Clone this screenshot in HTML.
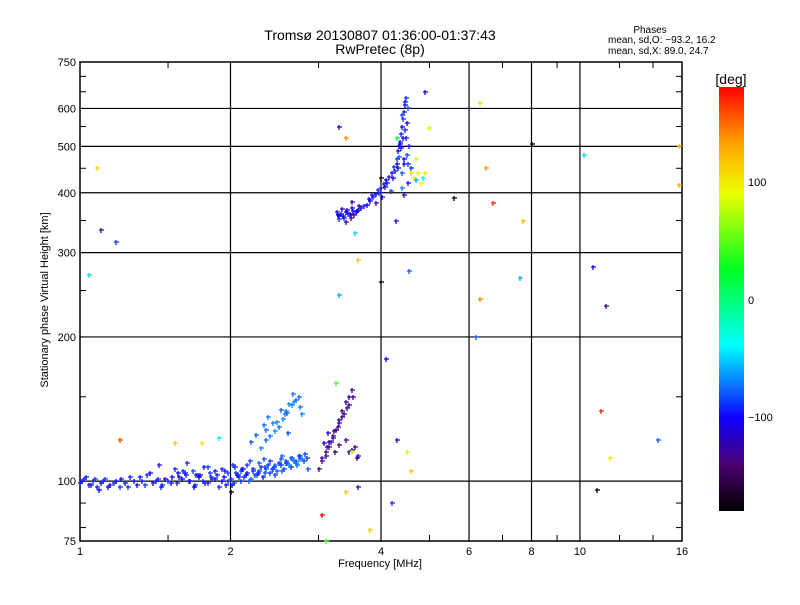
<!DOCTYPE html>
<html><head><meta charset="utf-8"><style>
body{margin:0;background:#fff;}
svg text{font-family:"Liberation Sans",sans-serif;fill:#000;}
</style></head><body>
<svg id="c" width="800" height="600" xmlns="http://www.w3.org/2000/svg">
<rect width="800" height="600" fill="#fff"/>
<defs><linearGradient id="cb" x1="0" y1="1" x2="0" y2="0">
<stop offset="0" stop-color="#000"/>
<stop offset="0.11" stop-color="#4a0070"/>
<stop offset="0.22" stop-color="#1000ff"/>
<stop offset="0.39" stop-color="#00ffff"/>
<stop offset="0.57" stop-color="#00ff20"/>
<stop offset="0.75" stop-color="#eeff00"/>
<stop offset="0.87" stop-color="#ffa000"/>
<stop offset="1" stop-color="#ff0000"/>
</linearGradient></defs>
<text x="380" y="40" font-size="14" text-anchor="middle">Tromsø 20130807 01:36:00-01:37:43</text>
<text x="380" y="54" font-size="14" text-anchor="middle">RwPretec (8p)</text>
<text x="650" y="33" font-size="10" text-anchor="middle">Phases</text>
<text x="608" y="43" font-size="10">mean, sd,O: −93.2, 16.2</text>
<text x="608" y="54" font-size="10">mean, sd,X:  89.0, 24.7</text>
<text x="380" y="567" font-size="11" text-anchor="middle">Frequency [MHz]</text>
<text transform="translate(48,300) rotate(-90)" font-size="11" text-anchor="middle">Stationary phase Virtual Height [km]</text>
<g id="axes"></g>
<g id="pts"></g>
<rect x="719" y="87" width="25" height="424" fill="url(#cb)"/>
<text x="731" y="84" font-size="14" text-anchor="middle">[deg]</text>
<text x="748" y="186" font-size="11">100</text>
<text x="748" y="304" font-size="11">0</text>
<text x="748" y="421" font-size="11">−100</text>
</svg>
<script>
const xTicks=[1,2,4,6,8,10,16];
const yTicks=[75,100,200,300,400,500,600,750];
const xMinor=[1.5,3,5,7,9,12,14];
const yMinor=[80,90,150,250,350,450,550,650,700];
// data: frequency (MHz), height (km), phase (deg)
const freqs=[1.0,1.02,1.04,1.06,1.08,1.1,1.12,1.15,1.18,1.2,1.23,1.26,1.3,1.33,1.36,1.4,1.43,1.46,1.5,1.53,1.56,1.6,1.63,1.66,1.7,1.73,1.76,1.8,1.84,1.88,1.92,1.96,2.0,2.03,2.06,2.1,2.13,2.16,2.2,2.24,2.28,2.32,2.36,2.4,2.44,2.48,2.52,2.56,2.6,2.64,2.68,2.72,2.76,2.8,2.84,1.55,1.62,1.68,1.74,1.8,1.86,1.92,1.98,2.04,2.1,2.16,2.22,2.28,2.34,2.4,2.46,2.52,2.58,2.64,2.7,2.76,2.82,2.3,2.35,2.4,2.45,2.5,2.55,2.6,2.65,2.7,2.75,2.78,2.2,2.25,2.36,2.48,2.58,2.68,2.74,3.0,3.05,3.1,3.15,3.2,3.25,3.3,3.35,3.4,3.45,3.5,3.55,3.6,3.05,3.12,3.2,3.28,3.35,3.42,3.5,3.18,3.3,3.45,3.6,
1.01,1.03,1.05,1.07,1.09,1.11,1.14,1.17,1.21,1.25,1.28,1.32,1.35,1.38,1.42,1.45,1.48,1.52,1.58,1.61,1.65,1.69,1.72,1.78,1.82,1.86,1.9,1.94,1.98,2.01,2.05,2.08,2.12,2.15,2.18,2.22,2.26,2.3,2.34,2.38,2.42,2.46,2.5,2.54,2.58,2.62,2.66,2.7,2.74,2.78,2.82,2.86,1.44,1.57,1.64,1.71,1.77,1.83,1.95,2.02,2.07,2.11,2.19,2.27,2.33,2.43,2.53,2.61,2.33,2.38,2.43,2.52,2.57,2.62,2.67,2.72,3.1,3.15,3.22,3.3,3.38,3.45,3.52,3.58,3.08,3.14,3.24,3.4,3.48,
3.28,3.32,3.36,3.4,3.44,3.48,3.52,3.56,3.6,3.65,3.7,3.75,3.8,3.85,3.9,3.95,4.0,4.05,4.1,4.15,4.2,4.25,4.3,4.33,4.36,4.38,4.4,4.42,4.44,4.46,4.48,4.5,4.52,4.54,4.4,4.45,4.5,4.55,4.6,4.65,4.7,4.75,4.8,4.85,4.9,4.45,4.35,4.28,
3.26,3.3,3.34,3.38,3.42,3.46,3.5,3.54,3.58,3.62,3.3,3.4,3.5,3.78,3.84,3.9,3.96,4.02,4.08,4.12,4.18,4.22,4.26,4.3,4.34,4.38,4.42,4.46,4.5,4.36,4.41,4.47,4.52,4.32,4.4,4.44,4.49,4.55,
1.04,1.1,1.18,1.2,1.08,1.2,1.55,1.75,1.9,2.0,3.05,3.1,3.25,3.4,3.5,3.6,3.3,3.4,3.55,3.8,4.0,4.1,4.2,4.3,4.5,4.6,4.7,4.9,5.0,5.6,6.3,6.5,6.7,7.6,8.0,10.2,10.6,11.3,14.3,15.8,15.8,6.2,6.3,7.7,4.3,3.3,10.8,11.0,11.5,4.6,4.0,4.9];
const heights=[99,101,98,100,97,99,101,98,100,97,99,102,98,100,103,99,101,98,100,102,99,101,103,100,98,102,100,99,101,103,100,98,101,99,103,100,102,104,101,103,105,102,106,104,107,105,108,106,109,107,110,108,111,110,112,106,104,105,103,107,105,106,104,107,105,108,106,109,107,110,108,111,109,112,110,113,114,117,122,124,127,130,135,139,144,148,143,138,121,125,128,133,140,146,150,106,110,113,118,123,128,134,140,146,150,155,118,113,112,118,124,130,136,142,116,121,119,115,
97,100,102,98,101,96,100,97,99,101,97,100,102,98,104,100,97,101,99,102,105,100,97,103,99,104,101,97,102,100,98,104,102,106,103,100,105,103,107,104,108,106,103,109,105,110,108,112,109,113,111,114,106,108,104,109,103,107,102,105,108,103,106,110,104,111,106,113,126,131,136,132,141,138,145,152,108,115,121,127,132,138,144,150,112,120,126,115,122,
355,360,362,358,365,362,360,366,364,368,372,375,378,385,392,398,405,410,418,425,432,440,452,470,490,510,530,550,570,590,610,630,560,600,420,440,460,480,500,450,430,470,440,420,430,650,470,500,
350,365,358,370,355,368,362,372,360,366,375,352,348,382,388,395,380,400,392,412,420,404,430,445,460,475,495,520,540,480,505,580,620,460,450,410,395,520,
275,270,335,315,122,450,122,120,120,123,95,85,75,160,95,115,290,550,520,330,79,260,180,90,122,115,440,425,440,545,390,615,450,380,265,505,480,280,232,122,415,500,200,240,350,520,245,96,140,112,105,430];
const phases=[-95,-90,-100,-95,-92,-98,-90,-95,-100,-88,-95,-92,-98,-95,-90,-100,-92,-95,-88,-98,-95,-100,-92,-95,-90,-98,-95,-92,-88,-95,-100,-95,-90,-85,-95,-92,-88,-95,-80,-90,-85,-95,-78,-88,-92,-80,-90,-85,-75,-88,-80,-85,-70,-82,-88,-90,-95,-85,-100,-88,-95,-92,-85,-90,-80,-88,-92,-78,-85,-90,-75,-80,-88,-70,-78,-85,-80,-70,-75,-72,-68,-75,-70,-72,-68,-75,-72,-70,-80,-78,-75,-72,-70,-68,-75,-135,-130,-125,-140,-128,-132,-120,-138,-130,-125,-135,-140,-125,-130,-120,-135,-128,-140,-130,-125,-120,-140,-135,-130,
-100,-92,-96,-88,-100,-95,-105,-92,-98,-90,-100,-95,-88,-102,-95,-92,-110,-96,-98,-90,-95,-100,-92,-96,-88,-98,-94,-100,-90,-96,-88,-92,-85,-95,-80,-90,-85,-92,-82,-88,-78,-85,-90,-76,-82,-70,-80,-75,-85,-72,-78,-80,-95,-100,-92,-98,-95,-90,-96,-92,-88,-95,-85,-90,-82,-80,-78,-85,-75,-72,-70,-78,-72,-68,-74,-70,-130,-125,-140,-120,-132,-128,-135,-125,-110,-120,-145,-130,-138,
-100,-95,-110,-100,-95,-105,-100,-95,-100,-110,-95,-100,-105,-95,-100,-90,-105,-95,-100,-110,-95,-90,-85,-100,-95,-90,-100,-85,-95,-100,-90,-100,-80,-95,-80,-100,-85,-95,-90,90,100,85,95,-40,-100,-100,-100,-95,
-110,-100,-120,-95,-105,-115,-100,-125,-95,-110,-90,-130,-115,-100,-95,-110,-90,-100,-120,-95,-85,-105,-90,-100,-80,-95,-110,-90,-75,-100,-85,-95,-90,-120,-70,-105,-95,-80,
-50,-130,-90,-150,110,150,115,105,-45,-180,180,40,40,120,80,120,-120,140,-50,120,-180,-100,-90,-120,100,110,-60,100,80,-180,110,140,170,-60,-180,-50,-100,-130,-80,130,120,-80,140,120,10,-60,-180,170,100,120,-180,-120];
const X0=80,X1=682,Y0=62,Y1=541;
const xs=f=>X0+(Math.log(f)/Math.log(16))*(X1-X0);
const ys=h=>Y1-(Math.log10(h/75))*(Y1-Y0);
const NS="http://www.w3.org/2000/svg";
const ax=document.getElementById('axes'),pg=document.getElementById('pts');
function mk(tag,at,par){const e=document.createElementNS(NS,tag);for(const k in at)e.setAttribute(k,at[k]);par.appendChild(e);return e;}
const fr=mk('rect',{x:X0,y:Y0,width:X1-X0,height:Y1-Y0,fill:'none',stroke:'#000','stroke-width':1.5},ax);


xTicks.forEach(v=>{const x=xs(v);
 if(v>1&&v<16){const l=mk('line',{x1:x,x2:x,y1:Y0,y2:Y1,stroke:'#000','stroke-width':1.2},ax);
 
 }
 const t=mk('text',{x:x,y:Y1+14,'font-size':11,'text-anchor':'middle'},ax);t.textContent=v;
 
 });
yTicks.forEach(v=>{const y=ys(v);
 if(v>75&&v<750){const l=mk('line',{x1:X0,x2:X1,y1:y,y2:y,stroke:'#000','stroke-width':1.2},ax);
 
 }
 const t=mk('text',{x:X0-4,y:y+4,'font-size':11,'text-anchor':'end'},ax);t.textContent=v;
 
 });
xMinor.forEach(v=>{const x=xs(v);mk('line',{x1:x,x2:x,y1:Y1,y2:Y1-6,stroke:'#000'},ax);mk('line',{x1:x,x2:x,y1:Y0,y2:Y0+6,stroke:'#000'},ax);});
yMinor.forEach(v=>{const y=ys(v);mk('line',{x1:X0,x2:X0+6,y1:y,y2:y,stroke:'#000'},ax);mk('line',{x1:X1,x2:X1-6,y1:y,y2:y,stroke:'#000'},ax);});
const stops=[[-180,[0,0,0]],[-140,[74,0,112]],[-100,[16,0,255]],[-40,[0,255,255]],[25,[0,255,32]],[90,[238,255,0]],[135,[255,160,0]],[180,[255,0,0]]];
function col(p){for(let i=1;i<stops.length;i++){if(p<=stops[i][0]){const a=stops[i-1],b=stops[i],t=(p-a[0])/(b[0]-a[0]);return 'rgb('+a[1].map((c,j)=>Math.round(c+(b[1][j]-c)*t)).join(',')+')';}}return 'rgb(255,0,0)';}
freqs.forEach((f,i)=>{const x=Math.round(xs(f)),y=Math.round(ys(heights[i]));const c=col(phases[i]);
 const p=mk('path',{d:`M${x-2} ${y}h5M${x} ${y-2}v5`,stroke:c,'stroke-width':1.3,fill:'none'},pg);
 
 });
</script>
</body></html>
